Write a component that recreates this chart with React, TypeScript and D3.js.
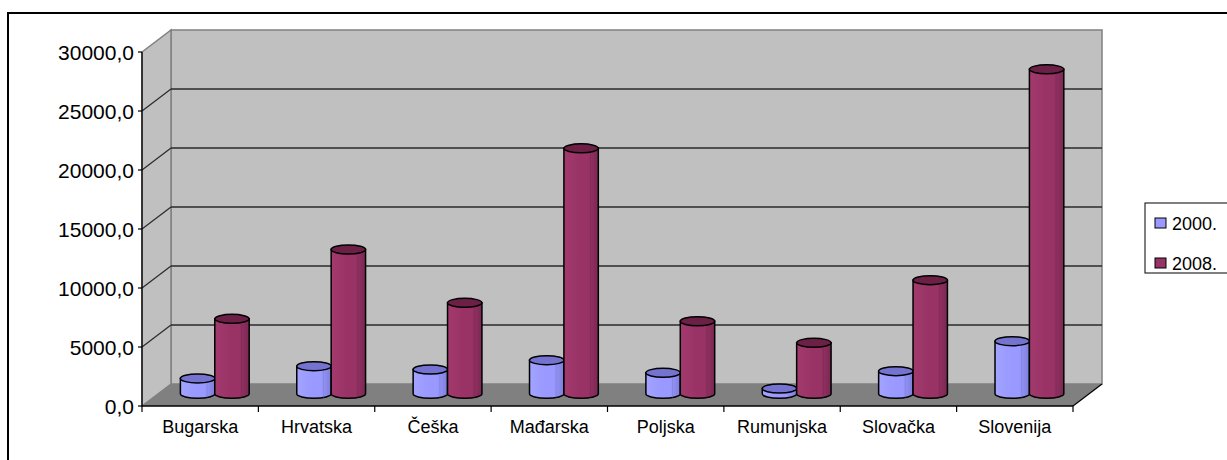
import React from 'react';
import * as d3 from 'd3';

const categories = ['Bugarska', 'Hrvatska', 'Češka', 'Mađarska', 'Poljska', 'Rumunjska', 'Slovačka', 'Slovenija'];
const series = ['2000.', '2008.'];
const values2000 = [1300, 2340, 2060, 2850, 1780, 450, 1920, 4460];
const values2008 = [6350, 12230, 7710, 20800, 6150, 4320, 9630, 27500];
const yTicks = [0, 5000, 10000, 15000, 20000, 25000, 30000];

const FONT = 'Liberation Sans, Arial, sans-serif';
const colors = [
  { light: '#a3a3ff', mid: '#9999ff', dark: '#7d7dd8', top: '#7474d0' },
  { light: '#a33a6e', mid: '#993366', dark: '#7a2852', top: '#6c2046' },
];

export default function App() {
  const W = 1227;
  const H = 460;
  // front plane of the 3D box
  const x0 = 142;
  const x1 = 1073;
  const depthX = 29;
  const depthY = -22;
  // bars sit roughly in the middle of the depth
  const barOffX = 14.6;
  const barOffY = -12.2;

  const y = d3.scaleLinear().domain([0, 30000]).range([406, 52]);
  const x = d3.scaleBand<string>().domain(categories).range([x0, x1]).paddingInner(0);
  const barW = 34.4;
  const ry = 4.5;

  const yTop = y(30000);
  const yBot = y(0);
  const fmt = (v: number) => d3.format('.1f')(v).replace('.', ',');

  const cylinder = (cx: number, v: number, s: number, key: string) => {
    const left = cx - barW / 2;
    const right = cx + barW / 2;
    const baseY = y(0) + barOffY;
    const topY = y(v) + barOffY;
    const rx = barW / 2;
    const body = `M${left},${topY} L${left},${baseY} A${rx},${ry} 0 0 0 ${right},${baseY} L${right},${topY} Z`;
    return (
      <g key={key}>
        <path d={body} fill={`url(#grad${s})`} stroke="#000" strokeWidth={1.5} />
        <line x1={cx + rx * 0.55} x2={cx + rx * 0.55} y1={topY} y2={baseY + ry * 0.8} stroke={colors[s].dark} strokeWidth={0.8} opacity={0.7} />
        <ellipse cx={cx} cy={topY} rx={rx} ry={ry} fill={colors[s].top} stroke="#000" strokeWidth={1.5} />
      </g>
    );
  };

  return (
    <svg width={W} height={H} style={{ position: 'absolute', left: 0, top: 0 }} fontFamily={FONT}>
      <defs>
        {colors.map((c, i) => (
          <linearGradient key={i} id={`grad${i}`} x1="0" x2="1" y1="0" y2="0">
            <stop offset="0" stopColor={c.light} />
            <stop offset="0.45" stopColor={c.mid} />
            <stop offset="0.7" stopColor={c.mid} />
            <stop offset="1" stopColor={c.dark} />
          </linearGradient>
        ))}
      </defs>
      <rect x={0} y={0} width={W} height={H} fill="#fff" />
      {/* outer frame */}
      <rect x={8} y={13} width={W + 20} height={H + 20} fill="none" stroke="#000" strokeWidth={2} />

      {/* back wall */}
      <rect x={x0 + depthX} y={yTop + depthY} width={x1 - x0} height={yBot - yTop} fill="#c0c0c0" stroke="#808080" strokeWidth={1.5} />
      {/* side wall */}
      <path
        d={`M${x0},${yTop} L${x0 + depthX},${yTop + depthY} L${x0 + depthX},${yBot + depthY} L${x0},${yBot} Z`}
        fill="#c0c0c0"
        stroke="#808080"
        strokeWidth={1.5}
      />
      {/* floor */}
      <path
        d={`M${x0},${yBot} L${x1},${yBot} L${x1 + depthX},${yBot + depthY} L${x0 + depthX},${yBot + depthY} Z`}
        fill="#808080"
      />
      <line x1={x1} y1={yBot} x2={x1 + depthX} y2={yBot + depthY} stroke="#000" strokeWidth={1.2} />

      {/* gridlines */}
      {yTicks.filter((t) => t > 0 && t < 30000).map((t) => (
        <g key={t}>
          <line x1={x0 + depthX} x2={x1 + depthX} y1={y(t) + depthY} y2={y(t) + depthY} stroke="#2a2a2a" strokeWidth={1.3} />
          <line x1={x0} x2={x0 + depthX} y1={y(t)} y2={y(t) + depthY} stroke="#2a2a2a" strokeWidth={1.2} />
        </g>
      ))}

      {/* bars */}
      {categories.map((c, i) => {
        const center = (x(c) as number) + x.bandwidth() / 2 + barOffX;
        return (
          <g key={c}>
            {cylinder(center - barW / 2, values2000[i], 0, c + 'a')}
            {cylinder(center + barW / 2, values2008[i], 1, c + 'b')}
          </g>
        );
      })}

      {/* axes */}
      <line x1={x0} x2={x0} y1={yTop} y2={yBot} stroke="#000" strokeWidth={1.3} />
      <line x1={x0} x2={x1} y1={yBot} y2={yBot} stroke="#000" strokeWidth={1.5} />
      {yTicks.map((t) => (
        <g key={t}>
          <line x1={x0 - 4} x2={x0} y1={y(t)} y2={y(t)} stroke="#000" strokeWidth={1.2} />
          <text x={134} y={y(t) + 7.5} textAnchor="end" fontSize={21}>
            {fmt(t)}
          </text>
        </g>
      ))}
      {[...categories.map((c) => x(c) as number), x1].map((v, i) => (
        <line key={i} x1={v} x2={v} y1={yBot} y2={yBot + 6} stroke="#000" strokeWidth={1.2} />
      ))}
      {categories.map((c) => (
        <text key={c} x={(x(c) as number) + x.bandwidth() / 2} y={433} textAnchor="middle" fontSize={18}>
          {c}
        </text>
      ))}

      {/* legend */}
      <rect x={1145} y={203} width={120} height={70} fill="#fff" stroke="#000" strokeWidth={1} />
      {series.map((s, i) => (
        <g key={s}>
          <rect x={1155} y={218 + i * 40} width={11} height={10} fill={colors[i].mid} stroke="#000" strokeWidth={1} />
          <text x={1172} y={229.5 + i * 40} fontSize={18}>
            {s}
          </text>
        </g>
      ))}
    </svg>
  );
}
